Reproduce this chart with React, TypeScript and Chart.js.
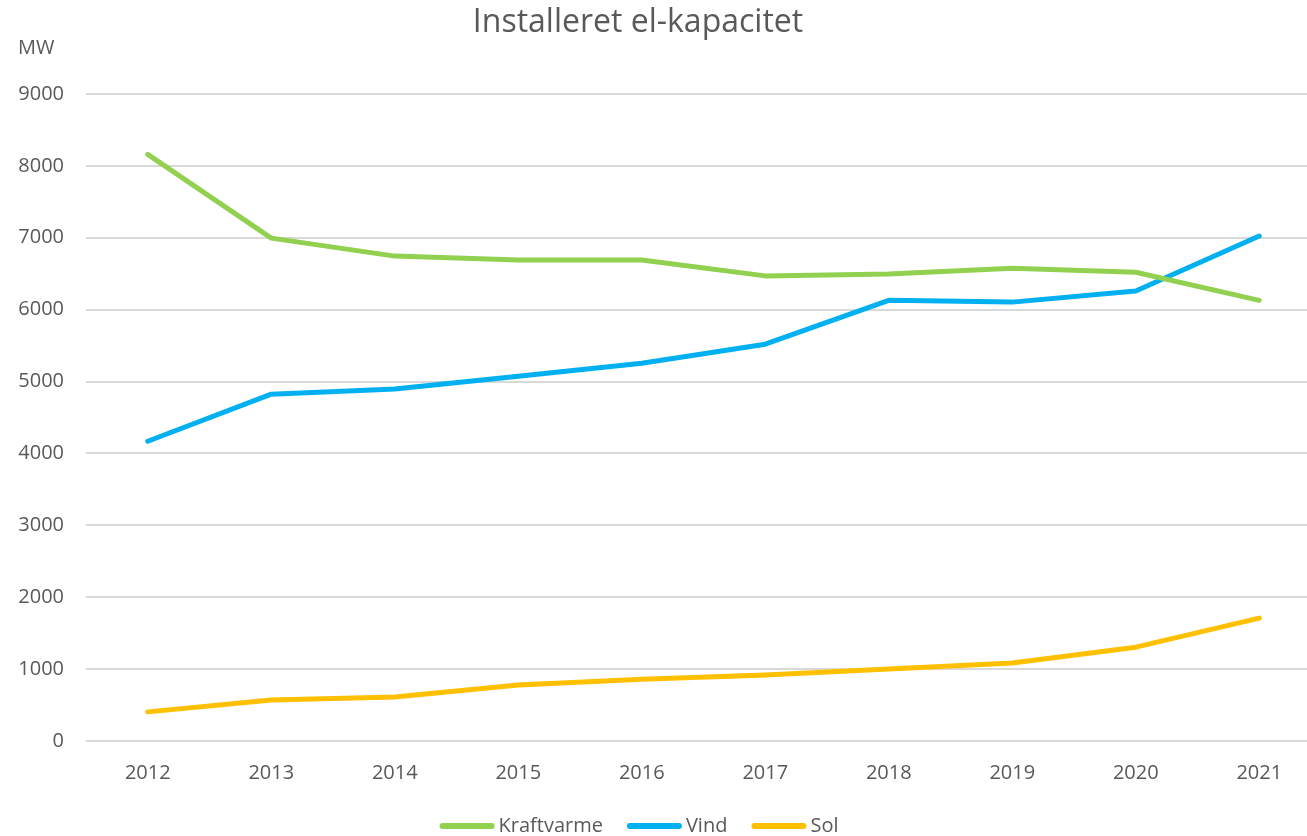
import React, { useEffect, useRef } from "react";
import { Chart, registerables } from "chart.js";

Chart.register(...registerables);

const years = ["2012", "2013", "2014", "2015", "2016", "2017", "2018", "2019", "2020", "2021"];
const kraftvarme = [8160, 6995, 6745, 6690, 6690, 6470, 6495, 6575, 6520, 6130];
const vind = [4170, 4825, 4895, 5075, 5255, 5520, 6130, 6105, 6260, 7025];
const sol = [405, 570, 612, 780, 860, 918, 1000, 1085, 1305, 1710];

const titleText = "Installeret el-kapacitet";
const unitText = "MW";
const FONT = "'Open Sans', 'Noto Sans', sans-serif";
const GREY = "#595959";

const textPlugin = {
  id: "textDecor",
  afterDraw(chart: any) {
    const ctx = chart.ctx;
    ctx.save();
    // title
    ctx.font = `32px ${FONT}`;
    ctx.fillStyle = GREY;
    ctx.textAlign = "center";
    ctx.textBaseline = "middle";
    ctx.fillText(titleText, 638, 23);
    // unit
    ctx.font = `20px ${FONT}`;
    ctx.textAlign = "left";
    ctx.fillText(unitText, 18, 48);
    // legend
    const items = chart.data.datasets.map((d: any) => ({ text: d.label, color: d.borderColor }));
    const boxW = 55;
    const gapBox = 4;
    const gapItem = 24;
    const widths = items.map((it: any) => boxW + gapBox + ctx.measureText(it.text).width);
    const total = widths.reduce((a: number, b: number) => a + b, 0) + gapItem * (items.length - 1);
    let x = 639 - total / 2;
    const y = 826;
    items.forEach((it: any, i: number) => {
      ctx.strokeStyle = it.color;
      ctx.lineWidth = 6;
      ctx.lineCap = "round";
      ctx.beginPath();
      ctx.moveTo(x + 3, y);
      ctx.lineTo(x + boxW - 3, y);
      ctx.stroke();
      ctx.fillStyle = GREY;
      ctx.fillText(it.text, x + boxW + gapBox, y);
      x += widths[i] + gapItem;
    });
    ctx.restore();
  },
};

export default function App() {
  const ref = useRef<HTMLCanvasElement | null>(null);
  useEffect(() => {
    if (!ref.current) return;
    const mk = (label: string, data: number[], color: string) => ({
      label,
      data,
      borderColor: color,
      backgroundColor: color,
      borderWidth: 5,
      pointRadius: 0,
      tension: 0,
      borderCapStyle: "round" as const,
      borderJoinStyle: "round" as const,
    });
    const chart = new Chart(ref.current, {
      type: "line",
      data: {
        labels: years,
        datasets: [
          mk("Kraftvarme", kraftvarme, "#92D050"),
          mk("Vind", vind, "#00B0F0"),
          mk("Sol", sol, "#FFC000"),
        ],
      },
      options: {
        animation: false,
        responsive: false,
        maintainAspectRatio: false,
        layout: { padding: { left: 0, right: 0, top: 94, bottom: 43 } },
        plugins: {
          title: { display: false },
          legend: { display: false },
          tooltip: { enabled: false },
        },
        scales: {
          x: {
            offset: true,
            grid: { display: false, drawTicks: false },
            border: { display: false },
            ticks: {
              color: GREY,
              font: { family: FONT, size: 20 },
              padding: 20,
              maxRotation: 0,
            },
            afterFit: (s: any) => {
              s.height = 52;
            },
          },
          y: {
            min: 0,
            max: 9000,
            grid: { color: "#D9D9D9", lineWidth: 2, drawTicks: false },
            border: { display: false },
            ticks: {
              stepSize: 1000,
              color: GREY,
              font: { family: FONT, size: 20 },
              padding: 22,
              callback: (v: any) => String(v),
            },
            afterFit: (s: any) => {
              s.width = 86;
            },
          },
        },
      },
      plugins: [textPlugin],
    });
    return () => chart.destroy();
  }, []);
  return (
    <div style={{ position: "fixed", left: 0, top: 0, width: 1307, height: 836, overflow: "hidden", background: "#fff" }}>
      <canvas ref={ref} width={1321} height={836} style={{ display: "block" }} />
    </div>
  );
}
